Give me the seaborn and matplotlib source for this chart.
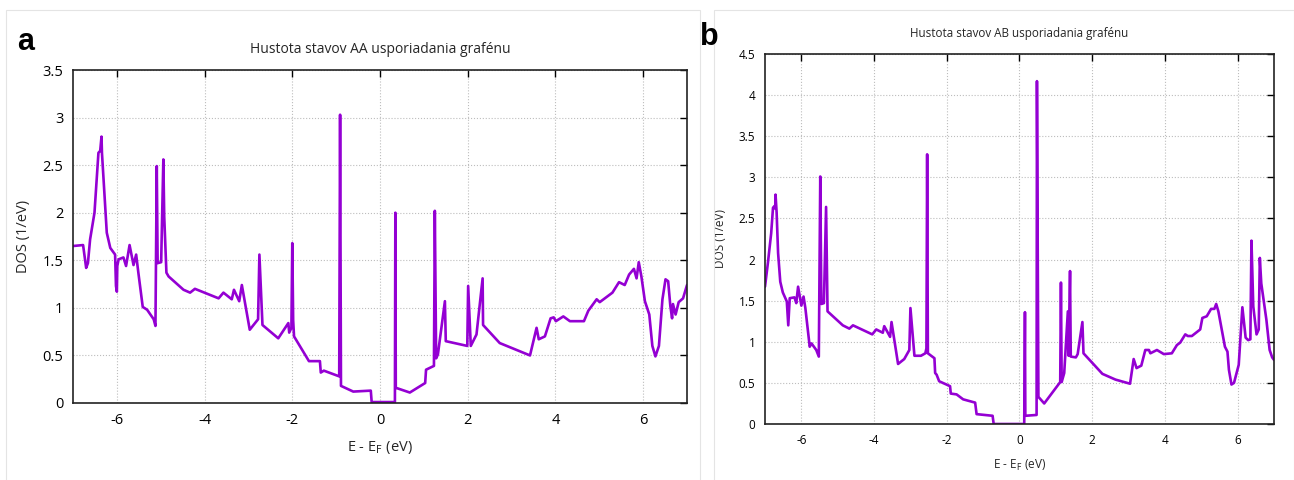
import matplotlib
matplotlib.use("Agg")
import matplotlib.pyplot as plt
import matplotlib.patches as mpatches
from matplotlib.ticker import FuncFormatter, MultipleLocator
import seaborn as sns

# DOS of AA-stacked graphene
aa_energy = [-7.0, -6.77, -6.70, -6.66, -6.61, -6.51, -6.42, -6.38, -6.35, -6.34, -6.29, -6.23,
             -6.15, -6.04, -6.02, -6.0, -5.99, -5.96, -5.85, -5.79, -5.71, -5.62, -5.56, -5.51,
             -5.41, -5.31, -5.16, -5.12, -5.09, -5.07, -4.99, -4.94, -4.92, -4.87, -4.82, -4.48,
             -4.33, -4.22, -3.68, -3.57, -3.38, -3.33, -3.21, -3.15, -2.97, -2.78, -2.75, -2.68,
             -2.32, -2.09, -2.07, -2.02, -2.0, -1.98, -1.96, -1.62, -1.37, -1.35, -1.28, -0.93,
             -0.91, -0.89, -0.61, -0.21, -0.19, 0.34, 0.35, 0.36, 0.68, 1.03, 1.05, 1.23, 1.25,
             1.28, 1.32, 1.48, 1.50, 1.99, 2.01, 2.07, 2.20, 2.34, 2.35, 2.73, 3.42, 3.57, 3.62,
             3.76, 3.89, 3.96, 4.01, 4.18, 4.33, 4.65, 4.75, 4.94, 5.01, 5.30, 5.45, 5.58, 5.68,
             5.79, 5.85, 5.90, 5.96, 6.04, 6.14, 6.21, 6.28, 6.36, 6.44, 6.51, 6.57, 6.62, 6.66,
             6.68, 6.74, 6.81, 6.91, 7.0]
aa_dos = [1.65, 1.66, 1.42, 1.47, 1.72, 2.0, 2.63, 2.65, 2.80, 2.63, 2.25, 1.79,
          1.63, 1.56, 1.23, 1.17, 1.44, 1.51, 1.53, 1.44, 1.66, 1.45, 1.56, 1.37,
          1.01, 0.98, 0.88, 0.81, 2.49, 1.47, 1.48, 2.56, 1.96, 1.37, 1.33, 1.19,
          1.16, 1.20, 1.10, 1.16, 1.09, 1.19, 1.07, 1.24, 0.77, 0.88, 1.56, 0.82,
          0.68, 0.84, 0.74, 0.79, 1.68, 0.87, 0.70, 0.44, 0.44, 0.32, 0.34, 0.28,
          3.03, 0.18, 0.12, 0.13, 0.01, 0.01, 2.0, 0.16, 0.11, 0.21, 0.35, 0.39, 2.02,
          0.47, 0.51, 1.07, 0.65, 0.60, 1.23, 0.60, 0.72, 1.31, 0.82, 0.63, 0.50, 0.79, 0.67,
          0.70, 0.89, 0.90, 0.86, 0.91, 0.86, 0.86, 0.97, 1.09, 1.06, 1.16, 1.27, 1.24, 1.35,
          1.41, 1.31, 1.48, 1.33, 1.07, 0.93, 0.60, 0.49, 0.60, 1.09, 1.30, 1.28, 1.02, 0.89,
          1.04, 0.93, 1.06, 1.10, 1.24]

# DOS of AB-stacked graphene
ab_energy = [-7.0, -6.92, -6.83, -6.78, -6.74, -6.72, -6.71, -6.68, -6.64, -6.58, -6.51, -6.40,
             -6.36, -6.32, -6.19, -6.14, -6.09, -6.0, -5.94, -5.89, -5.77, -5.72, -5.59, -5.52,
             -5.48, -5.45, -5.38, -5.32, -5.28, -4.86, -4.68, -4.58, -4.05, -3.94, -3.76, -3.72,
             -3.56, -3.52, -3.34, -3.17, -3.03, -3.00, -2.89, -2.71, -2.59, -2.56, -2.54, -2.52,
             -2.34, -2.32, -2.28, -2.21, -1.91, -1.89, -1.73, -1.55, -1.22, -1.18, -0.74, -0.71,
             0.0, 0.13, 0.15, 0.16, 0.47, 0.48, 0.52, 0.68, 1.12, 1.14, 1.16, 1.23, 1.33, 1.35,
             1.39, 1.41, 1.55, 1.60, 1.73, 1.76, 2.28, 2.64, 3.04, 3.14, 3.22, 3.35, 3.46, 3.56,
             3.60, 3.78, 3.97, 4.19, 4.33, 4.42, 4.56, 4.63, 4.74, 4.97, 5.03, 5.15, 5.27, 5.36,
             5.41, 5.47, 5.65, 5.72, 5.76, 5.83, 5.90, 6.03, 6.13, 6.22, 6.29, 6.35, 6.38, 6.43,
             6.52, 6.58, 6.61, 6.65, 6.79, 6.88, 6.95, 7.0]
ab_dos = [1.67, 1.96, 2.32, 2.63, 2.65, 2.62, 2.79, 2.57, 2.08, 1.73, 1.60, 1.49,
          1.20, 1.53, 1.54, 1.47, 1.67, 1.44, 1.55, 1.41, 0.94, 0.98, 0.90, 0.82,
          3.01, 1.46, 1.47, 2.64, 1.37, 1.20, 1.16, 1.20, 1.09, 1.15, 1.11, 1.19,
          1.06, 1.24, 0.73, 0.79, 0.90, 1.41, 0.83, 0.83, 0.86, 0.92, 3.28, 0.86,
          0.80, 0.62, 0.60, 0.52, 0.46, 0.37, 0.36, 0.30, 0.26, 0.12, 0.10, 0.0,
          0.0, 0.0, 1.36, 0.10, 0.11, 4.17, 0.33, 0.25, 0.51, 1.72, 0.51, 0.62, 1.37, 0.83,
          1.86, 0.82, 0.81, 0.85, 1.24, 0.86, 0.61, 0.54, 0.49, 0.79, 0.68, 0.71, 0.90, 0.90,
          0.86, 0.90, 0.85, 0.86, 0.96, 0.99, 1.09, 1.07, 1.07, 1.15, 1.29, 1.31, 1.40, 1.40,
          1.46, 1.37, 0.94, 0.88, 0.66, 0.48, 0.50, 0.72, 1.42, 1.05, 1.02, 1.03, 2.23, 1.43,
          1.09, 1.15, 2.02, 1.71, 1.27, 0.90, 0.81, 0.78]

titles = ["Hustota stavov AA usporiadania grafénu", "Hustota stavov AB usporiadania grafénu"]
panel_letters = ["a", "b"]
x_ticks = [-6, -4, -2, 0, 2, 4, 6]

sns.set_style("white")
plt.rcParams['font.family'] = ['Open Sans', 'DejaVu Sans']
plt.rcParams['axes.unicode_minus'] = False

line_color = "#9400D3"
fig = plt.figure(figsize=(12.94, 4.8), dpi=100)

# faint frames around the two pasted panels
fig.add_artist(mpatches.Rectangle((6 / 1294, -0.01), 694 / 1294, 1 - 10 / 480 + 0.01,
                                  transform=fig.transFigure, fill=False, ec="#e4e4e4", lw=0.8))
fig.add_artist(mpatches.Rectangle((714 / 1294, -0.01), 580 / 1294, 1 - 10 / 480 + 0.01,
                                  transform=fig.transFigure, fill=False, ec="#e4e4e4", lw=0.8))

ax_a = fig.add_axes([73 / 1294, 1 - 403 / 480, 614 / 1294, 333 / 480])
ax_b = fig.add_axes([765 / 1294, 1 - 424 / 480, 509 / 1294, 370 / 480])

panels = [
    (ax_a, aa_energy, aa_dos, 3.5, 10.5, 10.0),
    (ax_b, ab_energy, ab_dos, 4.5, 8.5, 8.4),
]

for i, (ax, xs, ys, ymax, fsize, tsize) in enumerate(panels):
    sns.lineplot(x=xs, y=ys, ax=ax, color=line_color, linewidth=1.9,
                 sort=False, estimator=None)
    ax.set_xlim(-7, 7)
    ax.set_ylim(0, ymax)
    ax.set_xticks(x_ticks)
    ax.yaxis.set_major_locator(MultipleLocator(0.5))
    ax.yaxis.set_major_formatter(FuncFormatter(lambda v, p: "%g" % v))
    ax.xaxis.set_major_formatter(FuncFormatter(lambda v, p: "%g" % v))
    ax.tick_params(direction="in", length=5, width=1, top=True, right=True,
                   labelsize=fsize, colors="black", pad=7)
    ax.grid(True, color="#bdbdbd", linestyle=":", linewidth=0.8)
    for sp in ax.spines.values():
        sp.set_visible(True)
        sp.set_color("#222222")
        sp.set_linewidth(1.2)
    ax.set_xlabel(r"E - E$_\mathrm{F}$ (eV)", fontsize=fsize, labelpad=8)
    ax.set_ylabel("DOS (1/eV)", fontsize=fsize, labelpad=8)
    ax.set_title(titles[i], fontsize=tsize, pad=12)

fig.text(17 / 1294, 1 - 42 / 480, panel_letters[0], fontsize=22, fontweight="bold",
         family="Liberation Sans", va="center", color="black")
fig.text(700 / 1294, 1 - 37 / 480, panel_letters[1], fontsize=22, fontweight="bold",
         family="Liberation Sans", va="center", color="black")

fig.savefig("out.png", dpi=100, facecolor="white")
